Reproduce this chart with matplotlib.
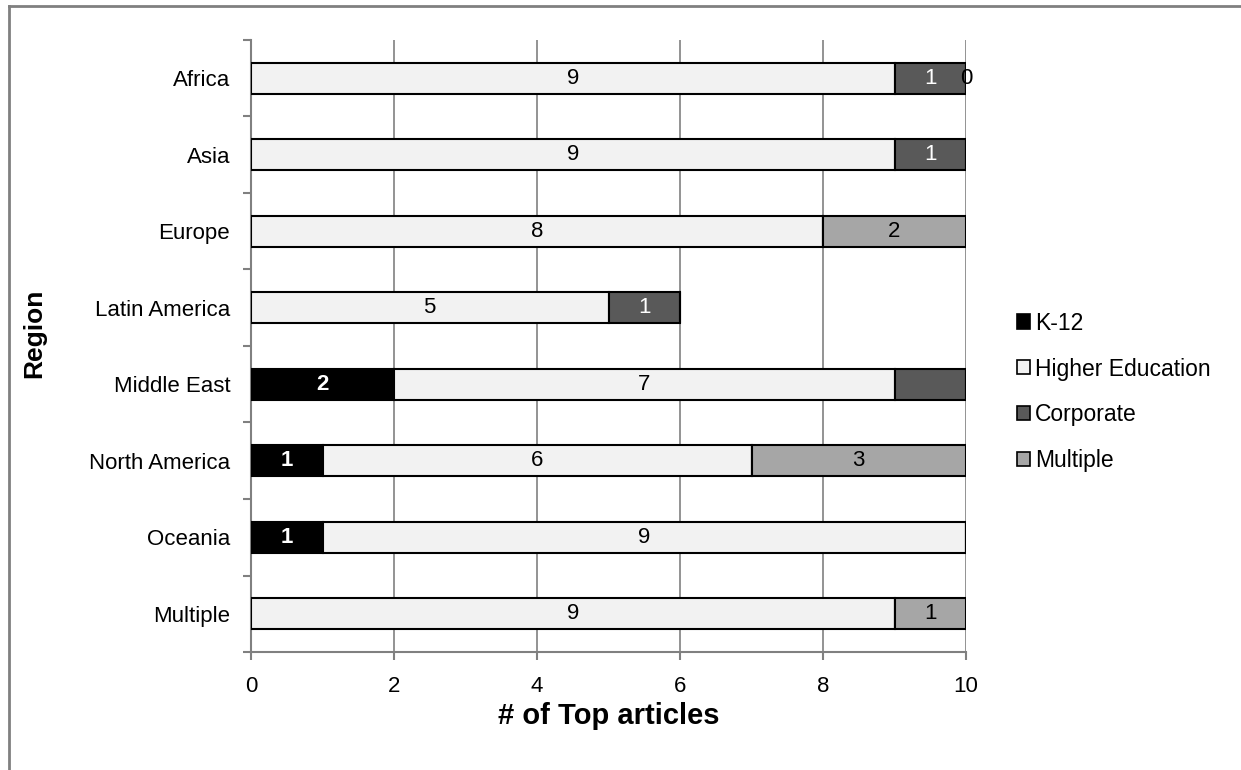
import matplotlib
matplotlib.use("Agg")
import matplotlib.pyplot as plt
from matplotlib.lines import Line2D
import numpy as np

plt.rcParams['font.family'] = ['Liberation Sans', 'DejaVu Sans']

regions = ["Africa", "Asia", "Europe", "Latin America", "Middle East",
           "North America", "Oceania", "Multiple"]
k12 = [0, 0, 0, 0, 2, 1, 1, 0]
higher_ed = [9, 9, 8, 5, 7, 6, 9, 9]
corporate = [1, 1, 0, 1, 1, 0, 0, 0]
multiple = [0, 0, 2, 0, 0, 3, 0, 1]

# which segments carry a value label (None = no label)
k12_labels = [None, None, None, None, 2, 1, 1, None]
higher_labels = higher_ed
corporate_labels = [1, 1, None, 1, None, None, None, None]
multiple_labels = [0, None, 2, None, None, 3, None, 1]

series = [
    ("K-12", k12, k12_labels, "#000000", dict(color="white", fontweight="bold")),
    ("Higher Education", higher_ed, higher_labels, "#f2f2f2", dict(color="black")),
    ("Corporate", corporate, corporate_labels, "#595959", dict(color="white")),
    ("Multiple", multiple, multiple_labels, "#a6a6a6", dict(color="black")),
]

W, H = 1241, 770
fig = plt.figure(figsize=(W / 100, H / 100), dpi=100)
ax = fig.add_axes([251 / W, 1 - 652 / H, (966 - 251) / W, (652 - 40) / H])

y = np.arange(len(regions))
left = np.zeros(len(regions))
handles = []
for name, vals, labels, color, tstyle in series:
    vals = np.array(vals, dtype=float)
    bars = ax.barh(y, vals, left=left, height=0.4, color=color,
                   edgecolor="black", linewidth=1.5, label=name, zorder=3)
    for i, (v, lab) in enumerate(zip(vals, labels)):
        if lab is None:
            continue
        cx = left[i] + v / 2
        ax.text(cx, y[i], str(lab), ha="center", va="center",
                fontsize=16, zorder=4, **tstyle)
    handles.append(bars)
    left = left + vals

ax.set_xlim(0, 10)
ax.set_ylim(len(regions) - 0.5, -0.5)
ax.set_xticks([0, 2, 4, 6, 8, 10])
ax.set_yticks(y)
ax.set_yticklabels(regions)
ax.set_yticks(np.arange(-0.5, len(regions)), minor=True)
ax.tick_params(axis="y", which="major", length=0, pad=15, labelsize=16)
ax.tick_params(axis="y", which="minor", length=6, width=1.5, color="#808080",
               direction="out")
ax.tick_params(axis="x", which="major", length=6, width=1.5, color="#808080",
               direction="out", labelsize=16, pad=11)
ax.grid(axis="x", color="#808080", linewidth=1.2, zorder=0)
for s in ["top", "right"]:
    ax.spines[s].set_visible(False)
for s in ["left", "bottom"]:
    ax.spines[s].set_color("#808080")
    ax.spines[s].set_linewidth(1.5)

ax.set_xlabel("# of Top articles", fontsize=21, fontweight="bold")
ax.xaxis.set_label_coords(0.5, (652 - 702) / 612)
ax.set_ylabel("Region", fontsize=19, fontweight="bold")
ax.yaxis.set_label_coords((46 - 251) / 715, 0.52)

leg = ax.legend(handles=handles, loc="center left",
                bbox_to_anchor=(1017 / W, 1 - 392 / H),
                bbox_transform=fig.transFigure, frameon=False, fontsize=16.5,
                handlelength=0.57, handleheight=0.57, handletextpad=0.2,
                labelspacing=1.0, borderpad=0, borderaxespad=0)
for p in leg.get_patches():
    p.set_linewidth(1.2)

# outer frame (top and left edges)
fig.add_artist(Line2D([8.5 / W, 8.5 / W], [0, 1 - 6 / H], color="#808080",
                      linewidth=2, transform=fig.transFigure))
fig.add_artist(Line2D([8.5 / W, 1], [1 - 6 / H, 1 - 6 / H], color="#808080",
                      linewidth=2, transform=fig.transFigure))

fig.savefig("out.png", dpi=100, facecolor="white")
